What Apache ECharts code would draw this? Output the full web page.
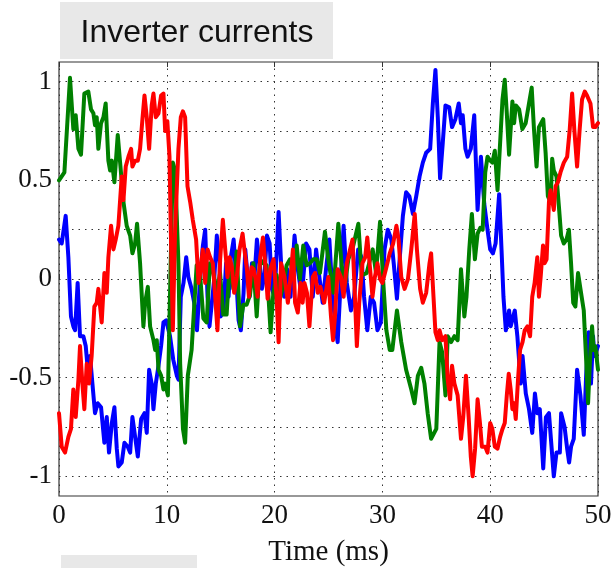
<!DOCTYPE html>
<html>
<head>
<meta charset="utf-8">
<script src="https://cdn.jsdelivr.net/npm/echarts@6/dist/echarts.min.js"></script>
<style>
  html, body { margin: 0; padding: 0; background: #fff; }
  #chart { width: 614px; height: 568px; }
</style>
</head>
<body>
<div id="chart"></div>
<script>
// Three-phase inverter currents (per unit) against time in ms
const blueT = [0, 0.25, 0.62, 0.87, 1.11, 1.33, 1.49, 1.73, 1.95, 2.26, 2.48, 2.72, 2.88, 3.1, 3.34, 3.59, 3.9, 4.21, 4.43, 4.64, 4.9, 5.14, 5.36, 5.51, 5.82, 6.07, 6.38, 6.6, 6.81, 7.06, 7.31, 7.62, 7.93, 8.14, 8.36, 8.6, 8.76, 8.98, 9.23, 9.47, 9.69, 9.94, 10.3, 10.6, 10.93, 11.08, 11.3, 11.55, 11.8, 12.0, 12.3, 12.54, 12.8, 13.1, 13.35, 13.56, 13.78, 13.96, 14.18, 14.4, 14.64, 14.9, 15.0, 15.26, 15.5, 15.73, 15.94, 16.2, 16.44, 16.66, 16.87, 17.12, 17.28, 17.5, 17.68, 17.9, 18.1, 18.36, 18.6, 18.82, 19.04, 19.29, 19.54, 19.75, 20.0, 20.37, 20.6, 20.9, 21.17, 21.48, 21.85, 22.15, 22.52, 22.92, 23.23, 23.54, 23.85, 24.15, 24.46, 24.77, 25.08, 25.38, 25.69, 25.85, 26.15, 26.4, 26.7, 27.08, 27.38, 27.75, 28.06, 28.3, 28.6, 28.92, 29.23, 29.54, 29.85, 30.2, 30.5, 30.83, 31.05, 31.35, 31.6, 31.9, 32.2, 32.5, 32.83, 33.14, 33.45, 33.75, 34.06, 34.43, 34.68, 34.92, 35.14, 35.35, 35.6, 35.85, 36.2, 36.46, 36.77, 37.08, 37.29, 37.45, 37.7, 37.9, 38.2, 38.52, 38.83, 39.14, 39.45, 39.75, 40.0, 40.25, 40.5, 40.83, 41.05, 41.23, 41.45, 41.6, 41.75, 41.9, 42.06, 42.28, 42.52, 42.83, 43.0, 43.3, 43.6, 43.9, 44.15, 44.37, 44.6, 44.92, 45.17, 45.45, 45.66, 45.9, 46.15, 46.46, 46.58, 46.9, 47.14, 47.32, 47.5, 47.75, 48.06, 48.37, 48.68, 48.9, 49.14, 49.35, 49.54, 49.66, 50];
const blueI = [0.20, 0.18, 0.32, 0.11, -0.19, -0.24, -0.26, -0.02, -0.29, -0.29, -0.34, -0.49, -0.39, -0.53, -0.68, -0.63, -0.65, -0.83, -0.70, -0.88, -0.73, -0.65, -0.86, -0.95, -0.93, -0.83, -0.85, -0.88, -0.70, -0.80, -0.90, -0.71, -0.68, -0.78, -0.46, -0.53, -0.66, -0.53, -0.44, -0.34, -0.22, -0.21, -0.29, -0.41, -0.49, -0.51, -0.09, -0.02, 0.11, 0.01, -0.05, -0.12, -0.26, 0.01, 0.17, 0.25, -0.09, -0.24, -0.12, 0.0, 0.22, 0.08, -0.19, -0.16, 0.08, -0.09, 0.11, 0.20, 0.01, -0.21, -0.26, -0.07, 0.15, 0.01, -0.09, 0.08, -0.02, 0.20, 0.08, -0.05, 0.01, 0.22, 0.18, -0.05, -0.09, 0.34, 0.08, -0.09, 0.05, -0.09, 0.22, 0.05, -0.09, 0.18, 0.15, -0.09, 0.15, 0.01, -0.12, 0.05, 0.20, -0.09, -0.26, -0.32, 0.01, 0.27, -0.02, -0.16, -0.09, 0.15, 0.11, -0.09, -0.26, -0.09, -0.12, -0.26, -0.22, 0.15, 0.25, 0.20, 0.08, -0.10, 0.10, 0.32, 0.44, 0.42, 0.33, 0.42, 0.52, 0.59, 0.64, 0.66, 0.89, 1.06, 0.82, 0.51, 0.69, 0.88, 0.87, 0.77, 0.81, 0.89, 0.79, 0.83, 0.66, 0.62, 0.66, 0.83, 0.35, 0.62, 0.38, 0.25, 0.15, 0.13, 0.18, 0.43, 0.15, -0.09, -0.26, -0.22, -0.16, -0.24, -0.24, -0.16, -0.29, -0.53, -0.39, -0.58, -0.66, -0.78, -0.58, -0.68, -0.66, -0.96, -0.70, -0.68, -0.83, -1.0, -0.88, -0.88, -0.68, -0.75, -0.86, -0.93, -0.85, -0.81, -0.46, -0.59, -0.79, -0.49, -0.27, -0.53, -0.29, -0.39, -0.34];

const greenT = [0, 0.5, 1.02, 1.33, 1.55, 1.8, 2.04, 2.35, 2.72, 2.97, 3.19, 3.34, 3.5, 3.65, 3.9, 4.12, 4.33, 4.58, 4.74, 4.9, 5.14, 5.45, 5.67, 5.98, 6.28, 6.6, 6.81, 7.06, 7.24, 7.52, 7.83, 7.99, 8.24, 8.45, 8.76, 8.92, 9.07, 9.23, 9.47, 9.69, 9.85, 10.1, 10.56, 10.77, 11.08, 11.24, 11.5, 11.7, 11.95, 12.3, 12.77, 13.08, 13.39, 13.7, 14.0, 14.32, 14.63, 14.94, 15.24, 15.55, 15.86, 16.17, 16.48, 16.79, 17.1, 17.41, 17.72, 18.03, 18.34, 18.65, 18.95, 19.26, 19.63, 19.88, 20.19, 20.5, 20.81, 21.12, 21.43, 21.74, 22.05, 22.35, 22.66, 22.97, 23.28, 23.59, 23.9, 24.21, 24.67, 24.98, 25.45, 25.91, 26.22, 26.53, 26.84, 27.3, 27.77, 28.08, 28.54, 29.1, 29.41, 29.78, 30.06, 30.37, 30.68, 30.92, 31.35, 31.75, 32.2, 32.68, 32.98, 33.29, 33.6, 33.9, 34.2, 34.52, 35.0, 35.3, 35.54, 35.85, 36.06, 36.37, 36.68, 36.98, 37.29, 37.6, 37.8, 38.06, 38.3, 38.58, 38.83, 39.08, 39.3, 39.54, 39.75, 40.0, 40.2, 40.43, 40.68, 40.92, 41.14, 41.35, 41.54, 41.75, 42.06, 42.22, 42.37, 42.68, 42.98, 43.29, 43.6, 43.85, 44.06, 44.3, 44.52, 44.92, 45.14, 45.35, 45.6, 45.75, 45.9, 46.15, 46.37, 46.58, 46.83, 47.08, 47.3, 47.5, 47.7, 47.9, 48.15, 48.37, 48.68, 48.92, 49.08, 49.3, 49.45, 49.6, 49.75, 50];
const greenI = [0.50, 0.54, 1.02, 0.76, 0.83, 0.66, 0.63, 0.94, 0.95, 0.86, 0.84, 0.78, 0.82, 0.66, 0.79, 0.82, 0.89, 0.60, 0.55, 0.60, 0.49, 0.73, 0.59, 0.39, 0.27, 0.22, 0.13, 0.18, 0.28, 0.08, -0.24, -0.12, -0.04, -0.24, -0.31, -0.36, -0.31, -0.46, -0.49, -0.56, -0.53, -0.59, 0.59, 0.55, 0.08, -0.43, -0.76, -0.83, -0.49, -0.36, 0.07, 0.03, -0.20, -0.22, 0.08, 0.03, -0.07, 0.03, -0.18, -0.18, 0.10, -0.05, 0.14, -0.24, -0.13, -0.13, -0.08, 0.08, -0.19, 0.10, 0.08, 0.07, -0.27, -0.07, 0.02, -0.10, -0.03, 0.07, 0.10, 0.02, 0.17, 0.0, 0.17, 0.07, 0.08, 0.10, 0.10, 0.03, 0.24, 0.10, -0.07, 0.28, 0.07, -0.03, 0.10, 0.17, 0.28, 0.02, 0.03, 0.15, 0.03, 0.29, 0.0, -0.26, -0.36, -0.36, -0.16, -0.32, -0.46, -0.56, -0.63, -0.49, -0.45, -0.53, -0.68, -0.81, -0.76, -0.32, -0.37, -0.59, -0.29, -0.32, -0.29, -0.31, 0.05, -0.19, -0.09, 0.15, 0.33, 0.10, 0.23, 0.26, 0.25, 0.54, 0.62, 0.60, 0.59, 0.65, 0.45, 0.69, 0.91, 1.01, 0.84, 0.63, 0.90, 0.79, 0.88, 0.86, 0.76, 0.79, 0.89, 0.97, 0.76, 0.57, 0.77, 0.81, 0.64, 0.42, 0.39, 0.61, 0.55, 0.52, 0.37, 0.22, 0.18, 0.20, 0.25, 0.08, -0.12, -0.14, 0.03, -0.05, -0.16, -0.43, -0.63, -0.36, -0.24, -0.36, -0.34, -0.46];

const redT = [0, 0.25, 0.56, 0.87, 1.11, 1.33, 1.55, 1.8, 1.95, 2.17, 2.35, 2.57, 2.79, 3.03, 3.28, 3.5, 3.65, 3.96, 4.21, 4.43, 4.58, 4.83, 5.05, 5.26, 5.51, 5.67, 5.82, 5.98, 6.19, 6.44, 6.69, 6.81, 7.06, 7.31, 7.52, 7.74, 7.93, 8.14, 8.36, 8.6, 8.76, 8.98, 9.23, 9.47, 9.69, 9.85, 10.05, 10.25, 10.37, 10.56, 10.77, 11.08, 11.3, 11.49, 11.7, 11.92, 12.17, 12.41, 12.72, 12.94, 13.1, 13.34, 13.56, 13.78, 14.02, 14.27, 14.49, 14.7, 14.95, 15.2, 15.42, 15.63, 15.82, 16.04, 16.25, 16.5, 16.75, 17.03, 17.2, 17.43, 17.62, 17.86, 18.05, 18.24, 18.42, 18.67, 18.92, 19.13, 19.35, 19.6, 19.9, 20.18, 20.37, 20.6, 20.92, 21.23, 21.48, 21.7, 21.9, 22.15, 22.4, 22.6, 22.77, 23.0, 23.23, 23.54, 23.75, 24.0, 24.25, 24.6, 24.98, 25.23, 25.42, 25.6, 25.85, 26.15, 26.4, 26.7, 27.0, 27.23, 27.45, 27.63, 27.85, 28.15, 28.4, 28.6, 28.86, 29.08, 29.3, 29.54, 29.78, 30.0, 30.37, 30.68, 31.0, 31.3, 31.5, 31.75, 32.06, 32.37, 32.68, 33.0, 33.2, 33.5, 33.75, 34.06, 34.37, 34.52, 34.74, 34.92, 35.14, 35.3, 35.54, 35.85, 36.06, 36.28, 36.46, 36.68, 36.98, 37.29, 37.5, 37.75, 38.0, 38.2, 38.37, 38.6, 38.83, 39.05, 39.23, 39.54, 39.75, 40.0, 40.2, 40.43, 40.68, 40.92, 41.14, 41.35, 41.54, 41.72, 41.9, 42.06, 42.22, 42.37, 42.58, 42.77, 43.0, 43.2, 43.45, 43.7, 43.9, 44.12, 44.37, 44.52, 44.68, 44.9, 45.05, 45.23, 45.45, 45.6, 45.78, 45.9, 46.06, 46.28, 46.52, 46.83, 47.14, 47.38, 47.6, 47.8, 48.06, 48.3, 48.52, 48.77, 48.98, 49.3, 49.54, 49.75, 50];
const redI = [-0.68, -0.85, -0.88, -0.80, -0.76, -0.56, -0.70, -0.51, -0.34, -0.53, -0.66, -0.43, -0.53, -0.39, -0.14, -0.12, -0.05, -0.22, 0.03, -0.07, 0.11, 0.27, 0.15, 0.20, 0.27, 0.40, 0.52, 0.40, 0.57, 0.62, 0.66, 0.57, 0.60, 0.60, 0.66, 0.81, 0.93, 0.82, 0.66, 0.88, 0.94, 0.82, 0.84, 0.93, 0.94, 0.75, 0.80, 0.62, 0.25, -0.26, 0.25, 0.66, 0.82, 0.85, 0.82, 0.47, 0.39, 0.30, 0.20, -0.02, 0.03, 0.15, -0.02, 0.15, 0.11, 0.08, -0.09, -0.26, 0.10, 0.30, 0.15, 0.01, 0.11, 0.06, -0.07, 0.01, 0.15, 0.23, 0.15, 0.05, -0.09, 0.06, 0.05, 0.0, -0.09, 0.11, 0.21, 0.08, -0.10, 0.05, 0.10, -0.09, -0.32, 0.08, 0.01, -0.12, 0.01, 0.15, -0.12, -0.17, -0.02, -0.12, -0.02, -0.07, -0.24, 0.01, 0.03, -0.07, -0.04, -0.12, 0.01, -0.19, -0.31, -0.19, 0.05, 0.01, -0.09, 0.08, 0.15, 0.20, -0.09, -0.34, -0.12, 0.08, 0.11, 0.21, 0.05, -0.09, 0.01, 0.08, 0.0, -0.02, 0.06, 0.13, 0.18, 0.27, 0.20, 0.01, -0.05, 0.0, 0.15, 0.33, 0.15, -0.05, -0.12, -0.07, 0.08, 0.13, -0.09, -0.27, -0.31, -0.26, -0.31, -0.29, -0.51, -0.61, -0.44, -0.53, -0.59, -0.81, -0.70, -0.49, -0.70, -0.90, -1.0, -0.86, -0.61, -0.73, -0.85, -0.85, -0.88, -0.73, -0.76, -0.85, -0.86, -0.80, -0.76, -0.73, -0.59, -0.48, -0.56, -0.66, -0.63, -0.71, -0.51, -0.36, -0.32, -0.26, -0.24, -0.29, -0.09, -0.02, 0.11, -0.09, 0.01, 0.17, 0.08, 0.10, 0.39, 0.45, 0.45, 0.35, 0.47, 0.49, 0.54, 0.59, 0.62, 0.76, 0.94, 0.76, 0.57, 0.76, 0.91, 0.95, 0.93, 0.89, 0.77, 0.77, 0.79];

const yTickLabels = [-1, -0.5, 0, 0.5, 1];
const yGridValues = [-1, -0.75, -0.5, -0.25, 0, 0.25, 0.5, 0.75, 1];
const titleText = 'Inverter currents';
const xAxisTitle = 'Time (ms)';

const zip = (t, v) => t.map((x, i) => [x, v[i]]);

const dotted = { color: '#333', width: 1, type: [1.5, 5] };
const serifFamily = '"Liberation Serif", "DejaVu Serif", serif';
const tickText = { fontFamily: serifFamily, fontSize: 27, color: '#111' };
const nameText = { fontFamily: serifFamily, fontSize: 29, color: '#111' };

const lineSeries = (name, color, t, v) => ({
  name,
  type: 'line',
  data: zip(t, v),
  showSymbol: false,
  symbol: 'none',
  lineStyle: { color, width: 4, join: 'round', cap: 'round' },
  animation: false,
  z: 3
});

const chart = echarts.init(document.getElementById('chart'), null, { renderer: 'canvas' });

const phaseA = lineSeries('ia', '#0000ff', blueT, blueI);
// horizontal dotted grid lines at every quarter unit
phaseA.markLine = {
  silent: true,
  symbol: 'none',
  label: { show: false },
  lineStyle: dotted,
  animation: false,
  z: 1,
  data: yGridValues.map(v => ({ yAxis: v }))
};

chart.setOption({
  animation: false,
  backgroundColor: '#fff',
  grid: {
    left: 59, right: 16, top: 62, bottom: 72,
    outerBoundsMode: 'none',
    containLabel: false,
    show: true, borderColor: '#333', borderWidth: 1.2, backgroundColor: 'transparent'
  },
  graphic: [
    { type: 'rect', shape: { x: 60, y: 2, width: 273, height: 57 }, style: { fill: '#e8e8e8' }, silent: true },
    { type: 'text', x: 197, y: 33,
      style: { text: titleText, fill: '#111', font: '32px "Liberation Sans", Arial, sans-serif', align: 'center', verticalAlign: 'middle' } },
    { type: 'rect', shape: { x: 61, y: 555, width: 136, height: 13 }, style: { fill: '#e8e8e8' }, silent: true }
  ],
  xAxis: [
    {
      type: 'value', min: 0, max: 50, interval: 10,
      name: xAxisTitle, nameLocation: 'middle', nameGap: 42,
      nameTextStyle: nameText,
      axisLine: { show: false },
      axisTick: { show: true, inside: true, length: 5, lineStyle: { color: '#333' } },
      axisLabel: Object.assign({ margin: 6 }, tickText),
      splitLine: { show: true, lineStyle: dotted }
    },
    {
      type: 'value', min: 0, max: 50, interval: 10, position: 'top',
      axisLine: { show: false },
      axisTick: { show: true, inside: true, length: 5, lineStyle: { color: '#333' } },
      axisLabel: { show: false },
      splitLine: { show: false }
    }
  ],
  yAxis: {
    type: 'value', min: -1.1, max: 1.1,
    axisLine: { show: false },
    axisTick: { show: false },
    axisLabel: Object.assign({ margin: 7, customValues: yTickLabels }, tickText),
    splitLine: { show: false }
  },
  series: [
    phaseA,
    lineSeries('ib', '#008000', greenT, greenI),
    lineSeries('ic', '#ff0000', redT, redI)
  ]
});
</script>
</body>
</html>
